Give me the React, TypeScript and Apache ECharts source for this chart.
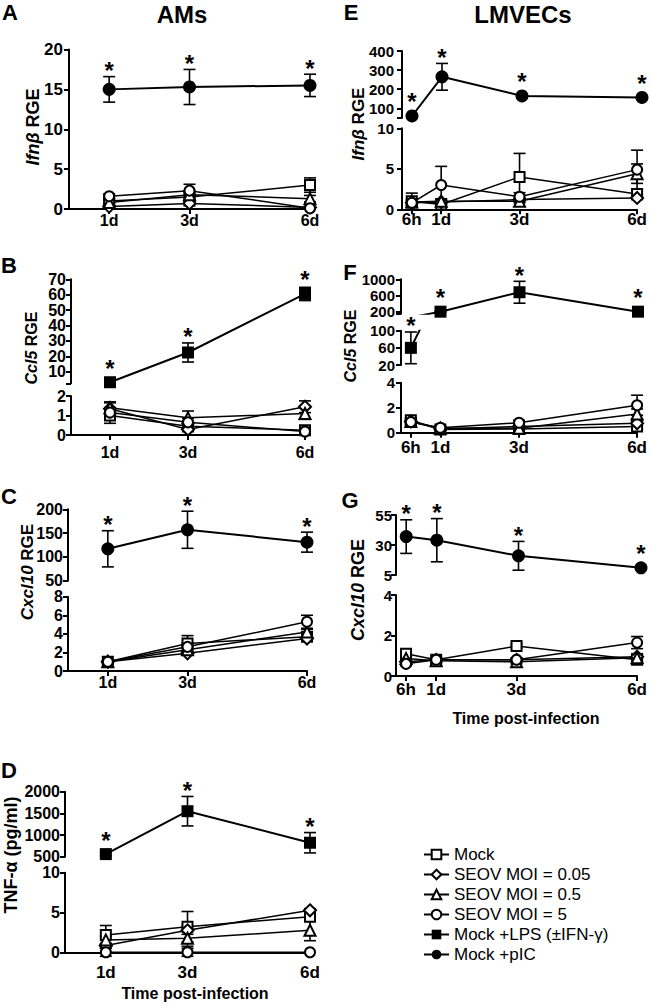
import React, { useEffect, useRef } from 'react';
import * as echarts from 'echarts';

const FONT = '"Liberation Sans", Arial, Helvetica, sans-serif';

// ---------- categories / ticks ----------
const seriesNames = ['Mock', 'SEOV MOI = 0.05', 'SEOV MOI = 0.5', 'SEOV MOI = 5', 'Mock +LPS (±IFN-γ)', 'Mock +pIC'];
const xAM = [1, 3, 6];
const xLM = [0.25, 1, 3, 6];
const xTickLabelsAM = ['1d', '3d', '6d'];
const xTickLabelsLM = ['6h', '1d', '3d', '6d'];

// ---------- Panel A: Ifnb, AMs ----------
const aMock = [1.0, 1.5, 3.0];      const aMockErr = [0.3, 0.5, 0.9];
const aLow = [0.3, 0.7, 0.2];       const aLowErr = [0.2, 0.3, 0.1];
const aMid = [0.8, 1.8, 1.3];       const aMidErr = [0.3, 0.5, 0.4];
const aHigh = [1.6, 2.3, 0.1];      const aHighErr = [0.3, 0.8, 0.1];
const aPIC = [15.0, 15.3, 15.5];    const aPICErr = [1.6, 2.2, 1.4];
const aYTicks = [0, 5, 10, 15, 20];

// ---------- Panel B: Ccl5, AMs ----------
const bMock = [1.0, 0.45, 0.25];    const bMockErr = [0.4, 0.2, 0.1];
const bLow = [1.35, 0.28, 1.45];    const bLowErr = [0.3, 0.1, 0.3];
const bMid = [1.4, 0.88, 1.1];      const bMidErr = [0.3, 0.35, 0.3];
const bHigh = [1.15, 0.65, 0.18];   const bHighErr = [0.2, 0.2, 0.05];
const bLPS = [3.2, 22.5, 60.5];     const bLPSErr = [0.5, 6.2, 4.3];
const bYTicksTop = [10, 20, 30, 40, 50, 60, 70];
const bYTicksBottom = [0, 1, 2];

// ---------- Panel C: Cxcl10, AMs ----------
const cMock = [1.0, 2.96, 3.7];     const cMockErr = [0.15, 0.85, 0.3];
const cLow = [1.0, 1.9, 3.5];       const cLowErr = [0.1, 0.2, 0.2];
const cMid = [1.0, 2.3, 4.2];       const cMidErr = [0.1, 0.3, 0.3];
const cHigh = [1.0, 2.6, 5.3];      const cHighErr = [0.1, 0.4, 0.7];
const cPIC = [117, 157, 131];       const cPICErr = [38, 39, 21];
const cYTicksTop = [50, 100, 150, 200];
const cYTicksBottom = [0, 2, 4, 6, 8];

// ---------- Panel D: TNF-a, AMs ----------
const dMock = [2.2, 3.25, 4.5];     const dMockErr = [1.2, 1.9, 0.5];
const dLow = [0.9, 2.8, 5.3];       const dLowErr = [0.3, 0.5, 0.2];
const dMid = [1.6, 1.8, 2.8];       const dMidErr = [0.5, 1.0, 1.3];
const dHigh = [0.05, 0.05, 0.05];   const dHighErr = [0.5, 0.5, 0];
const dLPS = [560, 1550, 822];      const dLPSErr = [40, 340, 235];
const dYTicksTop = [500, 1000, 1500, 2000];
const dYTicksBottom = [0, 5, 10];

// ---------- Panel E: Ifnb, LMVECs ----------
const eMock = [1.0, 0.6, 4.0, 1.9];   const eMockErr = [1.0, 0.3, 2.9, 0.5];
const eLow = [0.8, 0.9, 1.2, 1.4];    const eLowErr = [0.3, 0.2, 0.2, 0.2];
const eMid = [0.9, 1.0, 1.0, 4.4];    const eMidErr = [0.4, 0.3, 0.2, 1.2];
const eHigh = [0.8, 3.0, 1.55, 4.9];  const eHighErr = [0.3, 2.3, 0.5, 2.4];
const ePIC = [60, 265, 165, 157];     const ePICErr = [5, 70, 8, 8];
const eYTicksTop = [100, 200, 300, 400];
const eYTicksBottom = [0, 5, 10];

// ---------- Panel F: Ccl5, LMVECs ----------
const fMock = [1.0, 0.25, 0.3, 0.5];  const fMockErr = [0.2, 0.1, 0.1, 0.2];
const fLow = [0.9, 0.3, 0.5, 0.75];   const fLowErr = [0.2, 0.1, 0.1, 0.2];
const fMid = [0.9, 0.35, 0.35, 1.5];  const fMidErr = [0.2, 0.1, 0.1, 0.4];
const fHigh = [0.85, 0.4, 0.8, 2.2];  const fHighErr = [0.2, 0.1, 0.2, 0.8];
const fLPS = [60, 200, 680, 200];     const fLPSErr = [37, 10, 270, 10];
const fYTicksTop = [200, 600, 1000];
const fYTicksMiddle = [20, 60, 100];
const fYTicksBottom = [0, 2, 4];

// ---------- Panel G: Cxcl10, LMVECs ----------
const gMock = [1.1, 0.8, 1.48, 0.8];  const gMockErr = [0.2, 0.1, 0.1, 0.1];
const gLow = [0.7, 0.8, 0.8, 0.95];   const gLowErr = [0.1, 0.1, 0.1, 0.1];
const gMid = [0.87, 0.75, 0.7, 0.9];  const gMidErr = [0.1, 0.1, 0.1, 0.2];
const gHigh = [0.6, 0.8, 0.8, 1.65];  const gHighErr = [0.1, 0.1, 0.1, 0.3];
const gPIC = [37, 34, 21, 11];        const gPICErr = [14, 18, 12, 1];
const gYTicksTop = [5, 30, 55];
const gYTicksBottom = [0, 2, 4];

// ---------- styling per series kind ----------
const kindStyle = [
  { symbol: 'emptyRect', size: 10, lw: 1.5 },
  { symbol: 'emptyDiamond', size: 12, lw: 1.5 },
  { symbol: 'emptyTriangle', size: 11, lw: 1.5 },
  { symbol: 'emptyCircle', size: 10, lw: 1.5 },
  { symbol: 'rect', size: 12, lw: 2 },
  { symbol: 'circle', size: 13, lw: 2 },
];

type Seg = { top: number; height: number; min: number; max: number; ticks: number[]; labels: number[] };
type Group = { kind: number; values: number[]; errs: number[]; stars?: boolean };
type Panel = {
  left: number; width: number; x: number[]; xLabels: string[];
  yFont: number; yMargin: number; xFont: number; xMargin: number;
  segs: Seg[]; groups: Group[];
};

const panels: Panel[] = [
  {
    left: 69, width: 241, x: xAM, xLabels: xTickLabelsAM, yFont: 17, yMargin: 6, xFont: 16, xMargin: 3,
    segs: [{ top: 49.5, height: 159.5, min: 0, max: 20, ticks: aYTicks, labels: aYTicks }],
    groups: [
      { kind: 0, values: aMock, errs: aMockErr },
      { kind: 1, values: aLow, errs: aLowErr },
      { kind: 2, values: aMid, errs: aMidErr },
      { kind: 3, values: aHigh, errs: aHighErr },
      { kind: 5, values: aPIC, errs: aPICErr, stars: true },
    ],
  },
  {
    left: 71, width: 234, x: xAM, xLabels: xTickLabelsAM, yFont: 16, yMargin: 5, xFont: 16, xMargin: 9,
    segs: [
      { top: 279.3, height: 104, min: 2.5, max: 70, ticks: [2.5, ...bYTicksTop], labels: bYTicksTop },
      { top: 396, height: 39, min: 0, max: 2, ticks: bYTicksBottom, labels: bYTicksBottom },
    ],
    groups: [
      { kind: 0, values: bMock, errs: bMockErr },
      { kind: 1, values: bLow, errs: bLowErr },
      { kind: 2, values: bMid, errs: bMidErr },
      { kind: 3, values: bHigh, errs: bHighErr },
      { kind: 4, values: bLPS, errs: bLPSErr, stars: true },
    ],
  },
  {
    left: 68, width: 239, x: xAM, xLabels: xTickLabelsAM, yFont: 16, yMargin: 5, xFont: 16, xMargin: 3,
    segs: [
      { top: 509.3, height: 71.4, min: 50, max: 200, ticks: cYTicksTop, labels: cYTicksTop },
      { top: 596.7, height: 74.3, min: 0, max: 8, ticks: cYTicksBottom, labels: cYTicksBottom },
    ],
    groups: [
      { kind: 0, values: cMock, errs: cMockErr },
      { kind: 1, values: cLow, errs: cLowErr },
      { kind: 2, values: cMid, errs: cMidErr },
      { kind: 3, values: cHigh, errs: cHighErr },
      { kind: 5, values: cPIC, errs: cPICErr, stars: true },
    ],
  },
  {
    left: 65, width: 245, x: xAM, xLabels: xTickLabelsAM, yFont: 16, yMargin: 5, xFont: 17, xMargin: 11,
    segs: [
      { top: 791.7, height: 65, min: 500, max: 2000, ticks: dYTicksTop, labels: dYTicksTop },
      { top: 872.7, height: 80, min: 0, max: 10, ticks: dYTicksBottom, labels: dYTicksBottom },
    ],
    groups: [
      { kind: 0, values: dMock, errs: dMockErr },
      { kind: 1, values: dLow, errs: dLowErr },
      { kind: 2, values: dMid, errs: dMidErr },
      { kind: 3, values: dHigh, errs: dHighErr },
      { kind: 4, values: dLPS, errs: dLPSErr, stars: true },
    ],
  },
  {
    left: 402, width: 240, x: xLM, xLabels: xTickLabelsLM, yFont: 15, yMargin: 8, xFont: 17, xMargin: 2,
    segs: [
      { top: 51, height: 66.9, min: 50, max: 400, ticks: [50, ...eYTicksTop], labels: eYTicksTop },
      { top: 128.3, height: 81, min: 0, max: 10, ticks: eYTicksBottom, labels: eYTicksBottom },
    ],
    groups: [
      { kind: 0, values: eMock, errs: eMockErr },
      { kind: 1, values: eLow, errs: eLowErr },
      { kind: 2, values: eMid, errs: eMidErr },
      { kind: 3, values: eHigh, errs: eHighErr },
      { kind: 5, values: ePIC, errs: ePICErr, stars: true },
    ],
  },
  {
    left: 401, width: 237, x: xLM, xLabels: xTickLabelsLM, yFont: 15, yMargin: 6, xFont: 17, xMargin: 6,
    segs: [
      { top: 279.3, height: 34.4, min: 150, max: 1000, ticks: [150, ...fYTicksTop], labels: fYTicksTop },
      { top: 330.7, height: 34.3, min: 20, max: 100, ticks: fYTicksMiddle, labels: fYTicksMiddle },
      { top: 382.7, height: 50, min: 0, max: 4, ticks: fYTicksBottom, labels: fYTicksBottom },
    ],
    groups: [
      { kind: 0, values: fMock, errs: fMockErr },
      { kind: 1, values: fLow, errs: fLowErr },
      { kind: 2, values: fMid, errs: fMidErr },
      { kind: 3, values: fHigh, errs: fHighErr },
      { kind: 4, values: fLPS, errs: fLPSErr, stars: true },
    ],
  },
  {
    left: 396, width: 245, x: xLM, xLabels: xTickLabelsLM, yFont: 15, yMargin: 4, xFont: 17, xMargin: 5,
    segs: [
      { top: 515, height: 60, min: 5, max: 55, ticks: gYTicksTop, labels: gYTicksTop },
      { top: 595, height: 81, min: 0, max: 4, ticks: gYTicksBottom, labels: gYTicksBottom },
    ],
    groups: [
      { kind: 0, values: gMock, errs: gMockErr },
      { kind: 1, values: gLow, errs: gLowErr },
      { kind: 2, values: gMid, errs: gMidErr },
      { kind: 3, values: gHigh, errs: gHighErr },
      { kind: 5, values: gPIC, errs: gPICErr, stars: true },
    ],
  },
];

function errorBarRender(params: any, api: any) {
  const x = api.value(0);
  const lo = api.coord([x, api.value(1)]);
  const hi = api.coord([x, api.value(2)]);
  const w = 6;
  const st = { stroke: '#000', lineWidth: 1.6 };
  return {
    type: 'group',
    children: [
      { type: 'line', shape: { x1: lo[0], y1: lo[1], x2: hi[0], y2: hi[1] }, style: st },
      { type: 'line', shape: { x1: lo[0] - w, y1: lo[1], x2: lo[0] + w, y2: lo[1] }, style: st },
      { type: 'line', shape: { x1: hi[0] - w, y1: hi[1], x2: hi[0] + w, y2: hi[1] }, style: st },
    ],
  };
}

function starRender(params: any, api: any) {
  const x = api.value(0);
  const v = api.value(1);
  const e = api.value(2);
  const c = api.coord([x, v]);
  const t = api.coord([x, v + e]);
  const y = Math.min(t[1], c[1] - 8) - 6;
  return {
    type: 'text',
    x: c[0],
    y,
    style: { text: '*', fontSize: 24, fontWeight: 'bold', fontFamily: FONT, fill: '#000', align: 'center', verticalAlign: 'middle' },
  };
}

function buildOption() {
  const grid: any[] = [];
  const xAxis: any[] = [];
  const yAxis: any[] = [];
  const series: any[] = [];
  const axisLineStyle = { color: '#000', width: 2 };

  panels.forEach((p) => {
    p.segs.forEach((s, si) => {
      const gi = grid.length;
      const isBottom = si === p.segs.length - 1;
      grid.push({ left: p.left, top: s.top, width: p.width, height: s.height });
      xAxis.push({
        type: 'value', gridIndex: gi, min: 0, max: 6, show: isBottom,
        axisLine: { show: true, onZero: false, lineStyle: axisLineStyle },
        axisTick: { show: true, customValues: p.x, length: 5, lineStyle: axisLineStyle },
        axisLabel: {
          show: true, customValues: p.x, margin: p.xMargin, showMinLabel: true, showMaxLabel: true,
          formatter: (v: number) => { const i = p.x.indexOf(v); return i >= 0 ? p.xLabels[i] : ''; },
          fontSize: p.xFont, fontWeight: 'bold', fontFamily: FONT, color: '#000',
        },
        splitLine: { show: false },
      });
      // labels split over two axes (alternating) so that none of them is hidden by overlap checks
      const labelStyle = {
        show: true, margin: p.yMargin, showMinLabel: true, showMaxLabel: true, hideOverlap: false,
        formatter: (v: number) => String(v),
        fontSize: p.yFont, fontWeight: 'bold', fontFamily: FONT, color: '#000',
      };
      const yi = yAxis.length;
      yAxis.push({
        type: 'value', gridIndex: gi, min: s.min, max: s.max,
        axisLine: { show: true, onZero: false, lineStyle: axisLineStyle },
        axisTick: { show: true, customValues: s.ticks, length: 5, lineStyle: axisLineStyle },
        axisLabel: { ...labelStyle, customValues: s.labels.filter((_, i) => i % 2 === 0) },
        splitLine: { show: false },
      });
      const odd = s.labels.filter((_, i) => i % 2 === 1);
      if (odd.length) {
        yAxis.push({
          type: 'value', gridIndex: gi, min: s.min, max: s.max, position: 'left',
          axisLine: { show: false, onZero: false },
          axisTick: { show: false },
          axisLabel: { ...labelStyle, customValues: odd },
          splitLine: { show: false },
        });
      }
      p.groups.forEach((g) => {
        const inSeg = g.values.some((v) => v >= s.min && v <= s.max);
        if (!inSeg) return;
        const ks = kindStyle[g.kind];
        series.push({
          type: 'line', name: seriesNames[g.kind], xAxisIndex: gi, yAxisIndex: yi,
          data: p.x.map((x, i) => [x, g.values[i]]),
          clip: true, symbol: ks.symbol, symbolSize: ks.size, showAllSymbol: true,
          lineStyle: { color: '#000', width: ks.lw },
          itemStyle: { color: '#000', borderColor: '#000', borderWidth: g.kind < 4 ? 1.6 : 0 },
          emphasis: { disabled: true }, z: 3,
        });
        const eb = p.x
          .map((x, i) => [x, g.values[i] - g.errs[i], g.values[i] + g.errs[i], g.values[i]])
          .filter((d) => d[3] >= s.min && d[3] <= s.max && d[2] - d[1] > 0);
        if (eb.length) {
          series.push({
            type: 'custom', xAxisIndex: gi, yAxisIndex: yi, data: eb,
            encode: { x: 0, y: [1, 2] }, renderItem: errorBarRender, silent: true, z: 2,
          });
        }
        if (g.stars) {
          const st = p.x
            .map((x, i) => [x, g.values[i], g.errs[i]])
            .filter((d) => d[1] >= s.min && d[1] <= s.max);
          series.push({
            type: 'custom', xAxisIndex: gi, yAxisIndex: yi, data: st,
            encode: { x: 0, y: 1 }, renderItem: starRender, silent: true, z: 4,
          });
        }
      });
    });
  });

  const txt = (text: string, x: number, y: number, size: number) => ({
    type: 'text', x, y,
    style: { text, fontSize: size, fontWeight: 'bold', fontFamily: FONT, fill: '#000', align: 'center', verticalAlign: 'middle' },
  });
  const ytitle = (gene: string, rest: string, x: number, y: number, size: number) => {
    const tok = { fontSize: size, fontWeight: 'bold', fontFamily: FONT, fill: '#000' };
    return {
      type: 'text', x, y, rotation: Math.PI / 2,
      style: {
        text: gene ? `{i|${gene}}{n|${rest}}` : `{n|${rest}}`,
        fontSize: size, fontWeight: 'bold', fontFamily: FONT, fill: '#000', align: 'center', verticalAlign: 'middle',
        rich: { i: { ...tok, fontStyle: 'italic' }, n: { ...tok } },
      },
    };
  };

  const graphic: any[] = [
    txt('A', 10, 12, 22), txt('E', 351, 12, 22), txt('B', 9, 265, 22), txt('F', 350, 272, 22),
    txt('C', 9, 496, 22), txt('G', 350, 500, 22), txt('D', 9, 770, 22),
    txt('AMs', 182, 14, 24), txt('LMVECs', 523, 14, 24),
    ytitle('Ifnβ', ' RGE', 33, 127, 18),
    ytitle('Ccl5', ' RGE', 31, 348, 16),
    ytitle('Cxcl10', ' RGE', 27, 572, 17),
    ytitle('', 'TNF-α (pg/ml)', 11, 855, 18),
    ytitle('Ifnβ', ' RGE', 358, 124, 17),
    ytitle('Ccl5', ' RGE', 350, 346, 16),
    ytitle('Cxcl10', ' RGE', 358, 590, 18),
    txt('Time post-infection', 195, 993, 16),
    txt('Time post-infection', 526, 718, 16),
  ];

  return {
    animation: false,
    backgroundColor: '#fff',
    grid, xAxis, yAxis, series, graphic,
    legend: {
      data: seriesNames, orient: 'vertical', left: 418, top: 841, itemGap: 3,
      itemWidth: 25, itemHeight: 12, selectedMode: false,
      textStyle: { fontSize: 17, fontFamily: FONT, color: '#000' },
    },
  };
}

export default function App() {
  const ref = useRef<HTMLDivElement>(null);
  useEffect(() => {
    if (!ref.current) return;
    const chart = echarts.init(ref.current, null, { renderer: 'svg' });
    chart.setOption(buildOption() as any);
    return () => chart.dispose();
  }, []);
  return <div ref={ref} style={{ position: 'absolute', left: 0, top: 0, width: 650, height: 1004 }} />;
}
